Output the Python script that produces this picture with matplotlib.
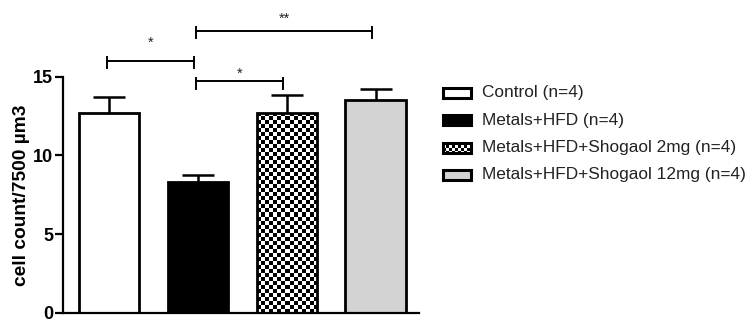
import numpy as np
import matplotlib
matplotlib.use('Agg')
import matplotlib.pyplot as plt
from matplotlib.patches import Rectangle

groups = ['Control (n=4)', 'Metals+HFD (n=4)',
          'Metals+HFD+Shogaol 2mg (n=4)', 'Metals+HFD+Shogaol 12mg (n=4)']
means = [12.7, 8.3, 12.7, 13.5]
sems = [1.0, 0.45, 1.15, 0.7]
fills = ['white', 'black', 'checker', '#d3d3d3']
yticks = [0, 5, 10, 15]
# significance brackets: (bar a, bar b, line height, star height, stars)
sig = [(0, 1, 16.0, 17.4, '*'),
       (1, 3, 17.9, 18.9, '**'),
       (1, 2, 14.7, 15.4, '*')]

plt.rcParams['font.family'] = ['Liberation Sans', 'DejaVu Sans']


def checker(w, h, cell):
    yy, xx = np.indices((h, w))
    return ((xx // cell + yy // cell) % 2).astype(float)


fig = plt.figure(figsize=(7.48, 3.2), dpi=100)
ax = fig.add_axes([0.0842, 0.0219, 0.476, 0.739])

x = np.arange(len(means))
ax.set_xlim(-0.52, 3.49)
ax.set_ylim(0, 15)

bars = ax.bar(x, means, width=0.68,
              color=['none' if f == 'checker' else f for f in fills],
              edgecolor='black', linewidth=2, zorder=2)

# checkerboard fill, drawn as an image clipped to the bar
for b, f in zip(bars, fills):
    if f != 'checker':
        continue
    bb = b.get_window_extent()
    img = checker(int(round(bb.width)), int(round(bb.height)), 4)
    im = ax.imshow(img, cmap='gray', vmin=0, vmax=1, aspect='auto',
                   interpolation='nearest', zorder=1.5,
                   extent=(b.get_x(), b.get_x() + b.get_width(), 0, b.get_height()))
    im.set_clip_path(b)
ax.set_xlim(-0.52, 3.49)
ax.set_ylim(0, 15)

eb = ax.errorbar(x, means, yerr=[np.zeros(len(sems)), sems], fmt='none',
                 ecolor='black', elinewidth=1.8, capsize=11.5, capthick=1.8,
                 zorder=3)
for cl in eb[1]:
    if np.allclose(cl.get_ydata(), means):
        cl.set_visible(False)

for a, b, h, hs, s in sig:
    xa, xb = a - 0.02, b - 0.04
    ax.plot([xa, xb], [h, h], color='black', lw=1.4, clip_on=False)
    for xe in (xa, xb):
        ax.plot([xe, xe], [h - 0.47, h + 0.22], color='black', lw=1.4, clip_on=False)
    ax.text((xa + xb) / 2, hs - 0.5, s, ha='center', va='baseline',
            fontsize=10.5, color='#222222', clip_on=False)

for side in ('top', 'right'):
    ax.spines[side].set_visible(False)
ax.spines['left'].set_linewidth(1.6)
ax.spines['bottom'].set_linewidth(1.6)
ax.set_xticks([])
ax.set_yticks(yticks)
ax.tick_params(axis='y', direction='out', length=6, width=1.6, pad=1, labelsize=13)
for lbl in ax.get_yticklabels():
    lbl.set_fontweight('bold')
ax.set_ylabel('cell count/7500 µm3', fontsize=13.8, fontweight='bold')
ax.yaxis.set_label_coords(-0.092, 0.5)

# legend in pixel coordinates
lax = fig.add_axes([0, 0, 1, 1], zorder=5)
lax.set_xlim(0, 748)
lax.set_ylim(320, 0)
lax.axis('off')
rows = [93, 120, 147.5, 174.5]
for yc, f, name in zip(rows, fills, groups):
    r = Rectangle((443, yc - 5), 28, 10, facecolor='none' if f == 'checker' else f,
                  edgecolor='black', linewidth=2.2, zorder=2)
    lax.add_patch(r)
    if f == 'checker':
        im = lax.imshow(checker(28, 10, 3), cmap='gray', vmin=0, vmax=1,
                        aspect='auto', interpolation='nearest', zorder=1,
                        extent=(443, 471, yc + 5, yc - 5))
        im.set_clip_path(r)
    lax.text(482, yc, name, va='center', ha='left', fontsize=12.4, color='#222222')
lax.set_xlim(0, 748)
lax.set_ylim(320, 0)

fig.savefig('out.png', dpi=100)
